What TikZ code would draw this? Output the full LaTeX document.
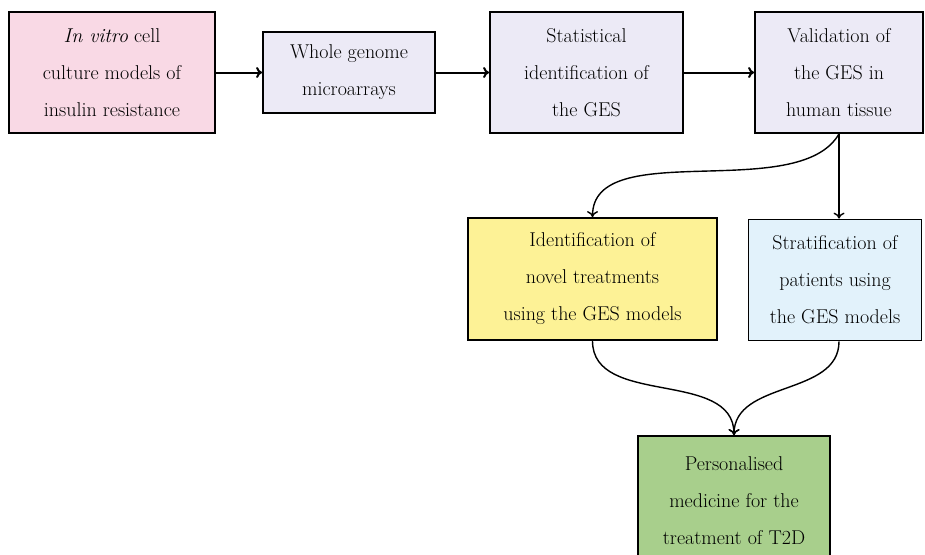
\documentclass[tikz,border=0pt]{standalone}
\usepackage{tikz}
\usetikzlibrary{shapes,arrows.meta}
\definecolor{box_pink}{HTML}{F9D9E5}
\definecolor{box_lilac}{HTML}{ECEAF6}
\definecolor{box_yellow}{HTML}{FDF296}
\definecolor{box_blue}{HTML}{E2F2FB}
\definecolor{box_green}{HTML}{A8CF8C}
\tikzstyle{node_box} = [rectangle, draw, line width=1.8pt, align=center, inner sep=0pt, font=\fontsize{20}{37}\selectfont]
\tikzstyle{edge_straight} = [-{To[length=6pt,width=11pt]}, line width=2pt]
\tikzstyle{edge_curve} = [-{To[length=6pt,width=11pt]}, line width=1.4pt]

\begin{document}
\begin{tikzpicture}[x=1pt,y=-1pt]
\useasboundingbox (0,0) rectangle (925,554);
\node (A) at (112,72.5) [node_box, fill=box_pink, minimum width=206pt, minimum height=121pt] {\textit{In vitro} cell\\culture models of\\insulin resistance};
\node (B) at (349,72.5) [node_box, fill=box_lilac, minimum width=172pt, minimum height=81pt] {Whole genome\\microarrays};
\node (C) at (586.5,72.5) [node_box, fill=box_lilac, minimum width=193pt, minimum height=121pt] {Statistical\\identification of\\the GES};
\node (D) at (839,72.5) [node_box, fill=box_lilac, minimum width=168pt, minimum height=121pt] {Validation of\\the GES in\\human tissue};
\node (E) at (592.5,279) [node_box, fill=box_yellow, minimum width=249pt, minimum height=122pt] {Identification of\\novel treatments\\using the GES models};
\node (F) at (835,280) [node_box, fill=box_blue, minimum width=173pt, minimum height=121pt] {Stratification of\\patients using\\the GES models};
\node (G) at (734,501) [node_box, fill=box_green, minimum width=192pt, minimum height=130pt] {Personalised\\medicine for the\\treatment of T2D};
\draw[edge_straight] (A)--(B);
\draw[edge_straight] (B)--(C);
\draw[edge_straight] (C)--(D);
\draw[edge_curve] (D.south)--(D.south |- F.north);
\draw[edge_curve] (D.south) to[out=240, in=90, looseness=0.8] (E.north);
\draw[edge_curve] (E.south) to[out=-90, in=90] (G.north);
\draw[edge_curve] (D.south |- F.south) to[out=-90, in=90] (G.north);
\end{tikzpicture}
\end{document}
